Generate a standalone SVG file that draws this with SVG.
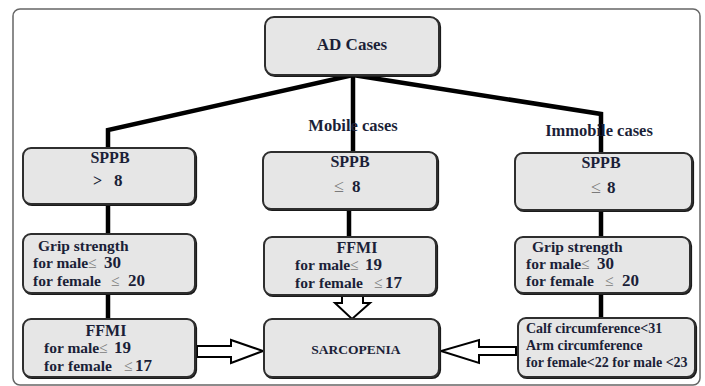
<svg xmlns="http://www.w3.org/2000/svg" width="705" height="386" viewBox="0 0 705 386">
<style>
.box{fill:#e6e6e6;stroke:#2e2e2e;stroke-width:2}
.sh{fill:none;stroke:#1a1a1a;stroke-width:2.2}
.t{font-family:"Liberation Serif","Times New Roman",serif;font-weight:bold;fill:#1b1f38}
.c{text-anchor:middle}
.le{fill:#7a7a7a;font-weight:normal}
.n{font-size:17px}
.conn{fill:none;stroke:#000;stroke-width:4.5;stroke-linejoin:miter}
.arr{fill:#fff;stroke:#000;stroke-width:2;stroke-linejoin:miter}
</style>
<rect x="0" y="0" width="705" height="386" fill="#fff"/>
<rect x="13" y="9" width="687" height="376" rx="7" fill="#fff" stroke="#666" stroke-width="1.5"/>

<g id="connectors">
<polyline class="conn" points="353,75 108,130 108,148"/>
<line class="conn" x1="353" y1="75" x2="353" y2="152" stroke-width="4"/>
<polyline class="conn" points="353,75 601,114 601,153"/>
<line class="conn" x1="108" y1="204" x2="108" y2="234" stroke-width="4"/>
<line class="conn" x1="108" y1="293" x2="108" y2="319" stroke-width="4"/>
<line class="conn" x1="349" y1="209" x2="349" y2="237" stroke-width="4"/>
<line class="conn" x1="601" y1="210" x2="601" y2="237" stroke-width="4"/>
<line class="conn" x1="601" y1="293" x2="601" y2="318" stroke-width="4"/>
<polygon class="arr" points="197,346 231,346 231,340 263,351 231,363 231,357 197,357"/>
<polygon class="arr" points="516,347 479,347 479,340 441,351 479,363 479,355 516,355"/>
<polygon class="arr" points="342,295 363,295 363,303 370,303 352,319 335,303 342,303"/>
</g>

<g id="n-ad">
<rect class="sh" x="266" y="18" width="174" height="58" rx="9"/>
<rect class="box" x="265" y="17" width="174" height="58" rx="9"/>
<text class="t c" x="352" y="50" font-size="17">AD Cases</text>
</g>

<text class="t c" x="353" y="131" font-size="16.5">Mobile cases</text>
<text class="t c" x="599" y="136" font-size="16.5">Immobile cases</text>

<g id="n-sppb-left">
<rect class="sh" x="24" y="149" width="172" height="56" rx="8"/>
<rect class="box" x="23" y="148" width="172" height="56" rx="8"/>
<text class="t c" x="110" y="163" font-size="16">SPPB</text>
<text class="t" y="186" font-size="16"><tspan x="93">&gt;</tspan><tspan x="114" class="n">8</tspan></text>
</g>
<g id="n-grip-left">
<rect class="sh" x="24" y="235" width="172" height="59" rx="8"/>
<rect class="box" x="23" y="234" width="172" height="59" rx="8"/>
<text class="t" x="38" y="251" font-size="15.5">Grip strength</text>
<text class="t" y="268" font-size="15.5"><tspan x="33">for male</tspan><tspan class="le" x="88">≤</tspan><tspan x="104" class="n">30</tspan></text>
<text class="t" y="286" font-size="15.5"><tspan x="33">for</tspan><tspan x="57">female</tspan><tspan class="le" x="111">≤</tspan><tspan x="128" class="n">20</tspan></text>
</g>
<g id="n-ffmi-left">
<rect class="sh" x="24" y="320" width="172" height="58" rx="8"/>
<rect class="box" x="23" y="319" width="172" height="58" rx="8"/>
<text class="t c" x="106" y="336" font-size="16">FFMI</text>
<text class="t" y="353" font-size="15.5"><tspan x="44">for male</tspan><tspan class="le" x="99">≤</tspan><tspan x="114" class="n">19</tspan></text>
<text class="t" y="371" font-size="15.5"><tspan x="44">for</tspan><tspan x="68">female</tspan><tspan class="le" x="124">≤</tspan><tspan x="135" class="n">17</tspan></text>
</g>

<g id="n-sppb-mid">
<rect class="sh" x="264" y="153" width="174" height="57" rx="8"/>
<rect class="box" x="263" y="152" width="174" height="57" rx="8"/>
<text class="t c" x="350" y="167" font-size="16">SPPB</text>
<text class="t" y="192" font-size="16"><tspan class="le" x="334" font-size="18">≤</tspan><tspan x="352" class="n">8</tspan></text>
</g>
<g id="n-ffmi-mid">
<rect class="sh" x="265" y="238" width="172" height="58" rx="8"/>
<rect class="box" x="264" y="237" width="172" height="58" rx="8"/>
<text class="t c" x="357" y="253" font-size="16">FFMI</text>
<text class="t" y="270" font-size="15.5"><tspan x="295">for male</tspan><tspan class="le" x="350">≤</tspan><tspan x="365" class="n">19</tspan></text>
<text class="t" y="288" font-size="15.5"><tspan x="295">for</tspan><tspan x="319">female</tspan><tspan class="le" x="374">≤</tspan><tspan x="385" class="n">17</tspan></text>
</g>
<g id="n-sarcopenia">
<rect class="sh" x="265" y="320" width="175" height="58" rx="8"/>
<rect class="box" x="264" y="319" width="175" height="58" rx="8"/>
<text class="t c" x="356" y="354" font-size="13.5">SARCOPENIA</text>
</g>

<g id="n-sppb-right">
<rect class="sh" x="516" y="154" width="177" height="57" rx="8"/>
<rect class="box" x="515" y="153" width="177" height="57" rx="8"/>
<text class="t c" x="601" y="168" font-size="16">SPPB</text>
<text class="t" y="193" font-size="16"><tspan class="le" x="591" font-size="18">≤</tspan><tspan x="607" class="n">8</tspan></text>
</g>
<g id="n-grip-right">
<rect class="sh" x="516" y="238" width="175" height="56" rx="8"/>
<rect class="box" x="515" y="237" width="175" height="56" rx="8"/>
<text class="t" x="532" y="252" font-size="15.5">Grip strength</text>
<text class="t" y="269" font-size="15.5"><tspan x="526">for male</tspan><tspan class="le" x="581">≤</tspan><tspan x="597" class="n">30</tspan></text>
<text class="t" y="286" font-size="15.5"><tspan x="526">for</tspan><tspan x="550">female</tspan><tspan class="le" x="605">≤</tspan><tspan x="622" class="n">20</tspan></text>
</g>
<g id="n-calf">
<rect class="sh" x="519" y="319" width="177" height="59" rx="8"/>
<rect class="box" x="518" y="318" width="177" height="59" rx="8"/>
<text class="t" x="526" y="333" font-size="14">Calf circumference&lt;31</text>
<text class="t" x="526" y="350" font-size="14">Arm circumference</text>
<text class="t" x="526" y="367" font-size="14">for female&lt;22 for male &lt;23</text>
</g>
</svg>
